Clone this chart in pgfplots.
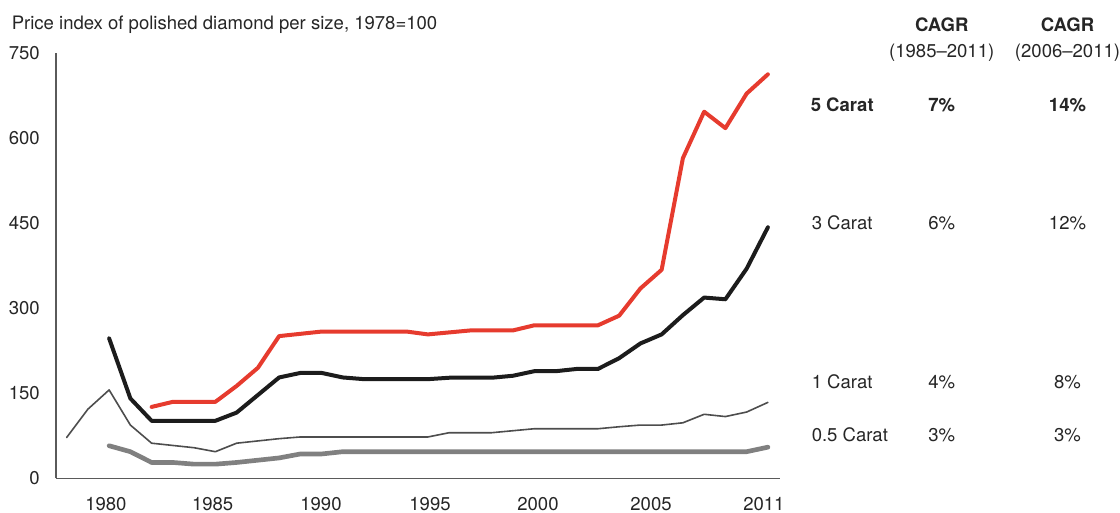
\documentclass[border=0pt]{standalone}
\usepackage{fontspec}
\setmainfont{TeX Gyre Heros}
\usepackage{pgfplots}
\usepackage{pgfplotstable}
\pgfplotsset{compat=1.18}

\definecolor{caratfive}{HTML}{E63B2E}
\definecolor{caratthree}{HTML}{1C1C1C}
\definecolor{caratone}{HTML}{4D4D4D}
\definecolor{carathalf}{HTML}{808080}
\definecolor{axisgray}{HTML}{5A5A5A}

% Price index per stone size (1978 = 100)
\pgfplotstableread{
year val
1982 126
1983 135
1984 135
1985 135
1986 163
1987 195
1988 251
1989 255
1990 259
1991 259
1992 259
1993 259
1994 259
1995 254
1996 257.5
1997 261
1998 261
1999 261
2000 270
2001 270
2002 270
2003 270
2004 287
2005 335
2006 368
2007 565
2008 647
2009 618
2010 679
2011 713
}\fiveCarat

\pgfplotstableread{
year val
1980 247
1981 141
1982 101.5
1983 101.5
1984 101.5
1985 101.5
1986 116
1987 147
1988 178
1989 186
1990 186
1991 178
1992 175
1993 175
1994 175
1995 175
1996 177.5
1997 177.5
1998 177.5
1999 181
2000 189
2001 189
2002 193
2003 193
2004 212
2005 238
2006 254
2007 288
2008 319
2009 316
2010 370
2011 443
}\threeCarat

\pgfplotstableread{
year val
1978 72
1979 122
1980 156
1981 94
1982 62
1983 58
1984 54
1985 47
1986 62
1987 66
1988 70
1989 73
1990 73
1991 73
1992 73
1993 73
1994 73
1995 73
1996 80.5
1997 80.5
1998 80.5
1999 84
2000 87.5
2001 87.5
2002 87.5
2003 87.5
2004 91
2005 94
2006 94
2007 98
2008 113
2009 109
2010 117
2011 134
}\oneCarat

\pgfplotstableread{
year val
1980 57.5
1981 47
1982 28
1983 28
1984 25
1985 25
1986 28
1987 32
1988 36
1989 43
1990 43
1991 47
1992 47
1993 47
1994 47
1995 47
1996 47
1997 47
1998 47
1999 47
2000 47
2001 47
2002 47
2003 47
2004 47
2005 47
2006 47
2007 47
2008 47
2009 47
2010 47
2011 55
}\halfCarat

\begin{document}
\begin{tikzpicture}[x=0.75pt, y=0.75pt, font=\fontsize{13.9pt}{16pt}\selectfont]

\begin{axis}[
  at={(42pt,26pt)}, anchor=south west,
  scale only axis, width=543pt, height=318.75pt,
  xmin=1977.5, xmax=2011.57, ymin=0, ymax=750,
  axis x line*=bottom, axis y line*=left,
  axis line style={axisgray, line width=1.2pt},
  major tick length=0pt, tick style={draw=none},
  ytick={0,150,300,450,600,750},
  xtick={1979.85,1984.87,1989.97,1995.1,2000.18,2005.5,2010.81},
  xticklabels={1980,1985,1990,1995,2000,2005,2011},
  /pgf/number format/assume math mode=true,
  ticklabel style={font=\fontsize{13.9pt}{16pt}\selectfont, text=black!85},
  yticklabel style={anchor=east, inner sep=0pt, xshift=-12pt},
  xticklabel style={anchor=north, inner sep=0pt, yshift=-14.3pt},
  clip=false,
  every axis plot/.append style={line join=round, line cap=round},
]
\addplot[carathalf, line width=3.5pt] table[x=year, y=val] {\halfCarat};
\addplot[caratone, line width=1.2pt] table[x=year, y=val] {\oneCarat};
\addplot[caratthree, line width=3pt] table[x=year, y=val] {\threeCarat};
\addplot[caratfive, line width=3pt] table[x=year, y=val] {\fiveCarat};
\end{axis}

% heading above the value axis
\node[anchor=base west, inner sep=0pt, text=black!85] at (11.5,483.5) {Price index of polished diamond per size, 1978=100};

% growth-rate table on the right
\begin{scope}[every node/.style={inner sep=0pt, text=black!85}]
\node[anchor=base] at (941.7,481.5) {\bfseries CAGR};
\node[anchor=base] at (1067.5,481.5) {\bfseries CAGR};
\node[anchor=base] at (941.7,455) {(1985--2011)};
\node[anchor=base] at (1067.5,455) {(2006--2011)};

\node[anchor=base west] at (810.5,401.5) {\bfseries 5 Carat};
\node[anchor=base] at (941.7,401.5) {\bfseries 7\%};
\node[anchor=base] at (1067.5,401.5) {\bfseries 14\%};

\node[anchor=base west] at (811.5,283.5) {3 Carat};
\node[anchor=base] at (941.7,283.5) {6\%};
\node[anchor=base] at (1067.5,283.5) {12\%};

\node[anchor=base west] at (811.5,124) {1 Carat};
\node[anchor=base] at (941.7,124) {4\%};
\node[anchor=base] at (1067.5,124) {8\%};

\node[anchor=base west] at (811.5,71.5) {0.5 Carat};
\node[anchor=base] at (941.7,71.5) {3\%};
\node[anchor=base] at (1067.5,71.5) {3\%};
\end{scope}

\pgfresetboundingbox
\path[use as bounding box] (0,0) rectangle (1120,513);
\end{tikzpicture}
\end{document}
